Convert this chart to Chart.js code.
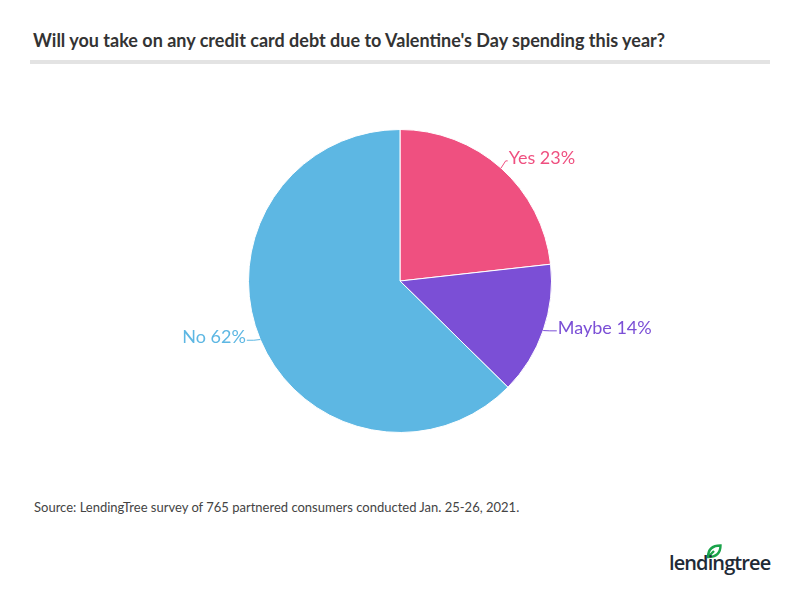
<!DOCTYPE html>
<html>
<head>
<meta charset="utf-8">
<script src="https://cdn.jsdelivr.net/npm/chart.js@4"></script>
<style>
  body { margin: 0; background: #fff; font-family: Lato, "Open Sans", sans-serif; }
  #wrap { position: relative; width: 800px; height: 590px; overflow: hidden; }
  #title { position: absolute; left: 33px; top: 29px; font-size: 18px; font-weight: bold; color: #333; }
  #rule { position: absolute; left: 30px; top: 60px; width: 740px; height: 4px; background: #e3e3e3; }
  #chartBox { position: absolute; left: 0; top: 79px; width: 800px; height: 404px; }
  #source { position: absolute; left: 34px; top: 499px; font-size: 13px; color: #444; }
  #logo { position: absolute; left: 669px; top: 543px; width: 110px; height: 34px; }
  #logo span { position: absolute; left: 0; top: 6px; font-size: 20px; font-weight: 600; color: #1f2a36; letter-spacing: -0.9px; font-family: "Open Sans", sans-serif; }
  #logo svg { position: absolute; left: 37px; top: 1px; }
</style>
</head>
<body>
<div id="wrap">
  <div id="title">Will you take on any credit card debt due to Valentine's Day spending this year?</div>
  <div id="rule"></div>
  <div id="chartBox"><canvas id="pie"></canvas></div>
  <div id="source">Source: LendingTree survey of 765 partnered consumers conducted Jan. 25-26, 2021.</div>
  <div id="logo">
    <svg width="16" height="15" viewBox="0 0 16 15"><path d="M2 13 C2 5 7 1.5 14.5 1.5 C14.5 9 10 13 2 13 Z M2 13 L8 7" fill="none" stroke="#1aa34a" stroke-width="2.4"/></svg>
    <span>lendingtree</span>
  </div>
</div>
<script>
const categories = ["Yes", "Maybe", "No"];
const shares = [23, 14, 62];
const sliceColors = ["#ef5080", "#7b4fd6", "#5db7e3"];

// data labels with a short connector, drawn after the pie
const pieLabels = {
  id: "pieLabels",
  afterDraw(chart) {
    const ctx = chart.ctx;
    const meta = chart.getDatasetMeta(0);
    ctx.save();
    ctx.font = "18px Lato, sans-serif";
    ctx.textBaseline = "middle";
    meta.data.forEach((arc, i) => {
      const mid = (arc.startAngle + arc.endAngle) / 2;
      const r = arc.outerRadius;
      const cos = Math.cos(mid), sin = Math.sin(mid);
      const x0 = arc.x + cos * r, y0 = arc.y + sin * r;
      const x1 = arc.x + cos * (r + 7), y1 = arc.y + sin * (r + 7) - 2;
      const right = cos >= 0;
      const ext = Math.abs(cos) > 0.8 ? 7 : 2;
      const x2 = x1 + (right ? ext : -ext);
      ctx.strokeStyle = sliceColors[i];
      ctx.lineWidth = 1;
      ctx.beginPath();
      ctx.moveTo(x0, y0);
      ctx.lineTo(x1, y1);
      ctx.lineTo(x2, y1);
      ctx.stroke();
      ctx.fillStyle = sliceColors[i];
      ctx.textAlign = right ? "left" : "right";
      ctx.fillText(categories[i] + " " + shares[i] + "%", x2 + (right ? 1 : -1), y1 - 3);
    });
    ctx.restore();
  }
};

new Chart(document.getElementById("pie"), {
  type: "pie",
  data: {
    labels: categories,
    datasets: [{
      data: shares,
      backgroundColor: sliceColors,
      borderColor: "#ffffff",
      borderWidth: 1
    }]
  },
  options: {
    responsive: true,
    maintainAspectRatio: false,
    animation: false,
    events: [],
    layout: { padding: { top: 50, bottom: 50 } },
    plugins: {
      legend: { display: false },
      tooltip: { enabled: false }
    }
  },
  plugins: [pieLabels]
});
</script>
</body>
</html>
